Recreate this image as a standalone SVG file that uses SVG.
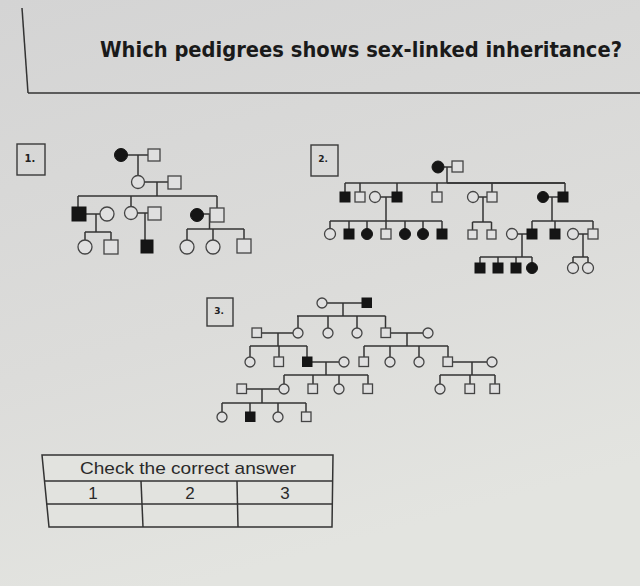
<svg xmlns="http://www.w3.org/2000/svg" width="640" height="586" viewBox="0 0 640 586">
<defs>
<linearGradient id="bg" x1="0" y1="0" x2="0.3" y2="1">
<stop offset="0" stop-color="#d4d4d4"/>
<stop offset="0.6" stop-color="#dcdcda"/>
<stop offset="1" stop-color="#e3e4e0"/>
</linearGradient>
<style>
.ln{stroke:#333;stroke-width:1.5;fill:none}
.o{fill:#e0e0e0;stroke:#444;stroke-width:1.3}
.f{fill:#151515;stroke:#151515;stroke-width:1}
.bx{fill:none;stroke:#3a3a3a;stroke-width:1.4}
.lbl{font-family:"DejaVu Sans","Liberation Sans",sans-serif;font-weight:bold;fill:#222}
.tb{font-family:"Liberation Sans",Arial,sans-serif;fill:#2a2a2a}
</style>
</defs>
<rect width="640" height="586" fill="url(#bg)"/>

<g id="header">
<line class="ln" x1="22" y1="8" x2="28" y2="93" stroke-width="2"/>
<line class="ln" x1="28" y1="93" x2="640" y2="93" stroke-width="2"/>
<text x="361" y="57" text-anchor="middle" font-family="'DejaVu Sans Condensed','DejaVu Sans',sans-serif" font-weight="bold" font-size="21" fill="#1a1a1a" textLength="522" lengthAdjust="spacingAndGlyphs">Which pedigrees shows sex-linked inheritance?</text>
</g>

<!-- Pedigree 1 -->
<g id="pedigree1">
<g id="p1-label"><rect class="bx" x="17" y="144" width="28" height="31"/><text class="lbl" x="30" y="162" font-size="10" text-anchor="middle">1.</text></g>
<g id="p1-connectors">
<line class="ln" x1="127" y1="155" x2="148" y2="155"/>
<line class="ln" x1="138" y1="155" x2="138" y2="175.5"/>
<line class="ln" x1="145" y1="182" x2="168" y2="182"/>
<line class="ln" x1="157" y1="182" x2="157" y2="196"/>
<line class="ln" x1="78" y1="196" x2="217" y2="196"/>
<line class="ln" x1="78" y1="196" x2="78" y2="207"/>
<line class="ln" x1="131" y1="196" x2="131" y2="206.5"/>
<line class="ln" x1="217" y1="196" x2="217" y2="208"/>
<line class="ln" x1="86" y1="214" x2="100" y2="214"/>
<line class="ln" x1="96" y1="214" x2="96" y2="232"/>
<line class="ln" x1="85" y1="232" x2="111" y2="232"/>
<line class="ln" x1="85" y1="232" x2="85" y2="240"/>
<line class="ln" x1="111" y1="232" x2="111" y2="240"/>
<line class="ln" x1="137.5" y1="213" x2="148" y2="213"/>
<line class="ln" x1="145" y1="213" x2="145" y2="240"/>
<line class="ln" x1="203" y1="214" x2="210" y2="214"/>
<line class="ln" x1="209.5" y1="214" x2="209.5" y2="229"/>
<line class="ln" x1="187" y1="229" x2="244" y2="229"/>
<line class="ln" x1="187" y1="229" x2="187" y2="240"/>
<line class="ln" x1="213" y1="229" x2="213" y2="240"/>
<line class="ln" x1="244" y1="229" x2="244" y2="239"/>
</g>
<circle id="p1-i1" class="f" cx="121" cy="155" r="6.5"/>
<rect id="p1-i2" class="o" x="148" y="149" width="12" height="12"/>
<circle id="p1-ii1" class="o" cx="138" cy="182" r="6.5"/>
<rect id="p1-ii2" class="o" x="168" y="176" width="13" height="13"/>
<rect id="p1-iii1" class="f" x="72" y="207" width="14" height="14"/>
<circle id="p1-iii2" class="o" cx="107" cy="214" r="7"/>
<circle id="p1-iii3" class="o" cx="131" cy="213" r="6.5"/>
<rect id="p1-iii4" class="o" x="148" y="207" width="13" height="13"/>
<circle id="p1-iii5" class="f" cx="197" cy="215" r="6.5"/>
<rect id="p1-iii6" class="o" x="210" y="208" width="14" height="14"/>
<circle id="p1-iv1" class="o" cx="85" cy="247" r="7"/>
<rect id="p1-iv2" class="o" x="104" y="240" width="14" height="14"/>
<rect id="p1-iv3" class="f" x="141" y="240" width="12" height="13"/>
<circle id="p1-iv4" class="o" cx="187" cy="247" r="7"/>
<circle id="p1-iv5" class="o" cx="213" cy="247" r="7"/>
<rect id="p1-iv6" class="o" x="237" y="239" width="14" height="14"/>
</g>

<!-- Pedigree 2 -->
<g id="pedigree2">
<g id="p2-label"><rect class="bx" x="311" y="145" width="27" height="31"/><text class="lbl" x="323" y="162" font-size="9" text-anchor="middle">2.</text></g>
<g id="p2-connectors">
<line class="ln" x1="444" y1="167" x2="452" y2="167"/>
<line class="ln" x1="447" y1="167" x2="447" y2="183"/>
<line class="ln" x1="345" y1="183" x2="565" y2="183" stroke-width="1.3"/>
<line class="ln" x1="447" y1="183" x2="565" y2="183" stroke-width="2"/>
<line class="ln" x1="345" y1="183" x2="345" y2="192"/>
<line class="ln" x1="360" y1="183" x2="360" y2="192"/>
<line class="ln" x1="397" y1="183" x2="397" y2="192"/>
<line class="ln" x1="437" y1="183" x2="437" y2="192"/>
<line class="ln" x1="492" y1="183" x2="492" y2="192"/>
<line class="ln" x1="565" y1="183" x2="565" y2="192"/>
<line class="ln" x1="380" y1="197" x2="392" y2="197"/>
<line class="ln" x1="386" y1="197" x2="386" y2="221"/>
<line class="ln" x1="330" y1="221" x2="442" y2="221"/>
<line class="ln" x1="330" y1="221" x2="330" y2="228.5"/>
<line class="ln" x1="349" y1="221" x2="349" y2="229"/>
<line class="ln" x1="367" y1="221" x2="367" y2="228.5"/>
<line class="ln" x1="386" y1="221" x2="386" y2="229"/>
<line class="ln" x1="405" y1="221" x2="405" y2="228.5"/>
<line class="ln" x1="423" y1="221" x2="423" y2="228.5"/>
<line class="ln" x1="442" y1="221" x2="442" y2="229"/>
<line class="ln" x1="478" y1="197" x2="487" y2="197"/>
<line class="ln" x1="483" y1="197" x2="483" y2="222"/>
<line class="ln" x1="472.5" y1="222" x2="491.5" y2="222"/>
<line class="ln" x1="472.5" y1="222" x2="472.5" y2="230"/>
<line class="ln" x1="491.5" y1="222" x2="491.5" y2="230"/>
<line class="ln" x1="548" y1="197" x2="558" y2="197"/>
<line class="ln" x1="552" y1="197" x2="552" y2="221"/>
<line class="ln" x1="532" y1="221" x2="593" y2="221"/>
<line class="ln" x1="532" y1="221" x2="532" y2="229"/>
<line class="ln" x1="555" y1="221" x2="555" y2="229"/>
<line class="ln" x1="593" y1="221" x2="593" y2="229"/>
<line class="ln" x1="517" y1="234" x2="527" y2="234"/>
<line class="ln" x1="522" y1="234" x2="522" y2="257"/>
<line class="ln" x1="480" y1="257" x2="532" y2="257"/>
<line class="ln" x1="480" y1="257" x2="480" y2="263"/>
<line class="ln" x1="498" y1="257" x2="498" y2="263"/>
<line class="ln" x1="516" y1="257" x2="516" y2="263"/>
<line class="ln" x1="532" y1="257" x2="532" y2="262.5"/>
<line class="ln" x1="578" y1="234" x2="588" y2="234"/>
<line class="ln" x1="583" y1="234" x2="583" y2="257"/>
<line class="ln" x1="573" y1="257" x2="588" y2="257"/>
<line class="ln" x1="573" y1="257" x2="573" y2="262.5"/>
<line class="ln" x1="588" y1="257" x2="588" y2="262.5"/>
</g>
<circle id="p2-i1" class="f" cx="438" cy="167" r="6"/>
<rect id="p2-i2" class="o" x="452" y="161" width="11" height="11"/>
<rect id="p2-ii1" class="f" x="340" y="192" width="10" height="10"/>
<rect id="p2-ii2" class="o" x="355" y="192" width="10" height="10"/>
<circle id="p2-ii3" class="o" cx="375" cy="197" r="5.5"/>
<rect id="p2-ii4" class="f" x="392" y="192" width="10" height="10"/>
<rect id="p2-ii5" class="o" x="432" y="192" width="10" height="10"/>
<circle id="p2-ii6" class="o" cx="473" cy="197" r="5.5"/>
<rect id="p2-ii7" class="o" x="487" y="192" width="10" height="10"/>
<circle id="p2-ii8" class="f" cx="543" cy="197" r="5.5"/>
<rect id="p2-ii9" class="f" x="558" y="192" width="10" height="10"/>
<circle id="p2-iii1" class="o" cx="330" cy="234" r="5.5"/>
<rect id="p2-iii2" class="f" x="344" y="229" width="10" height="10"/>
<circle id="p2-iii3" class="f" cx="367" cy="234" r="5.5"/>
<rect id="p2-iii4" class="o" x="381" y="229" width="10" height="10"/>
<circle id="p2-iii5" class="f" cx="405" cy="234" r="5.5"/>
<circle id="p2-iii6" class="f" cx="423" cy="234" r="5.5"/>
<rect id="p2-iii7" class="f" x="437" y="229" width="10" height="10"/>
<rect id="p2-iii8" class="o" x="468" y="230" width="9" height="9"/>
<rect id="p2-iii9" class="o" x="487" y="230" width="9" height="9"/>
<circle id="p2-iii10" class="o" cx="512" cy="234" r="5.5"/>
<rect id="p2-iii11" class="f" x="527" y="229" width="10" height="10"/>
<rect id="p2-iii12" class="f" x="550" y="229" width="10" height="10"/>
<circle id="p2-iii13" class="o" cx="573" cy="234" r="5.5"/>
<rect id="p2-iii14" class="o" x="588" y="229" width="10" height="10"/>
<rect id="p2-iv1" class="f" x="475" y="263" width="10" height="10"/>
<rect id="p2-iv2" class="f" x="493" y="263" width="10" height="10"/>
<rect id="p2-iv3" class="f" x="511" y="263" width="10" height="10"/>
<circle id="p2-iv4" class="f" cx="532" cy="268" r="5.5"/>
<circle id="p2-iv5" class="o" cx="573" cy="268" r="5.5"/>
<circle id="p2-iv6" class="o" cx="588" cy="268" r="5.5"/>
</g>

<!-- Pedigree 3 -->
<g id="pedigree3">
<g id="p3-label"><rect class="bx" x="207" y="298" width="26" height="28"/><text class="lbl" x="219" y="314" font-size="9" text-anchor="middle">3.</text></g>
<g id="p3-connectors">
<line class="ln" x1="327" y1="303" x2="362" y2="303"/>
<line class="ln" x1="343" y1="303" x2="343" y2="316"/>
<line class="ln" x1="297" y1="316" x2="385.5" y2="316"/>
<line class="ln" x1="298" y1="316" x2="298" y2="328"/>
<line class="ln" x1="328" y1="316" x2="328" y2="328"/>
<line class="ln" x1="357" y1="316" x2="357" y2="328"/>
<line class="ln" x1="385.5" y1="316" x2="385.5" y2="328"/>
<line class="ln" x1="262" y1="333" x2="293" y2="333"/>
<line class="ln" x1="278" y1="333" x2="278" y2="346"/>
<line class="ln" x1="250" y1="346" x2="307" y2="346"/>
<line class="ln" x1="250" y1="346" x2="250" y2="357"/>
<line class="ln" x1="279" y1="346" x2="279" y2="357"/>
<line class="ln" x1="307" y1="346" x2="307" y2="357"/>
<line class="ln" x1="390.5" y1="333" x2="423" y2="333"/>
<line class="ln" x1="407" y1="333" x2="407" y2="346"/>
<line class="ln" x1="364" y1="346" x2="448" y2="346"/>
<line class="ln" x1="364" y1="346" x2="364" y2="357"/>
<line class="ln" x1="390" y1="346" x2="390" y2="357"/>
<line class="ln" x1="419" y1="346" x2="419" y2="357"/>
<line class="ln" x1="448" y1="346" x2="448" y2="357"/>
<line class="ln" x1="312" y1="362" x2="339" y2="362"/>
<line class="ln" x1="326" y1="362" x2="326" y2="375"/>
<line class="ln" x1="284" y1="375" x2="368" y2="375"/>
<line class="ln" x1="284" y1="375" x2="284" y2="384"/>
<line class="ln" x1="313" y1="375" x2="313" y2="384"/>
<line class="ln" x1="339" y1="375" x2="339" y2="384"/>
<line class="ln" x1="368" y1="375" x2="368" y2="384"/>
<line class="ln" x1="453" y1="362" x2="487" y2="362"/>
<line class="ln" x1="472" y1="362" x2="472" y2="375"/>
<line class="ln" x1="440" y1="375" x2="495" y2="375"/>
<line class="ln" x1="440" y1="375" x2="440" y2="384"/>
<line class="ln" x1="470" y1="375" x2="470" y2="384"/>
<line class="ln" x1="495" y1="375" x2="495" y2="384"/>
<line class="ln" x1="247" y1="389" x2="279" y2="389"/>
<line class="ln" x1="262" y1="389" x2="262" y2="403"/>
<line class="ln" x1="222" y1="403" x2="306" y2="403"/>
<line class="ln" x1="222" y1="403" x2="222" y2="412"/>
<line class="ln" x1="250" y1="403" x2="250" y2="412"/>
<line class="ln" x1="278" y1="403" x2="278" y2="412"/>
<line class="ln" x1="306" y1="403" x2="306" y2="412"/>
</g>
<circle id="p3-i1" class="o" cx="322" cy="303" r="5"/>
<rect id="p3-i2" class="f" x="362" y="298" width="9.5" height="9.5"/>
<rect id="p3-ii1" class="o" x="252" y="328" width="9.5" height="9.5"/>
<circle id="p3-ii2" class="o" cx="298" cy="333" r="5"/>
<circle id="p3-ii3" class="o" cx="328" cy="333" r="5"/>
<circle id="p3-ii4" class="o" cx="357" cy="333" r="5"/>
<rect id="p3-ii5" class="o" x="381" y="328" width="9.5" height="9.5"/>
<circle id="p3-ii6" class="o" cx="428" cy="333" r="5"/>
<circle id="p3-iii1" class="o" cx="250" cy="362" r="5"/>
<rect id="p3-iii2" class="o" x="274" y="357" width="9.5" height="9.5"/>
<rect id="p3-iii3" class="f" x="302.5" y="357" width="9.5" height="9.5"/>
<circle id="p3-iii4" class="o" cx="344" cy="362" r="5"/>
<rect id="p3-iii5" class="o" x="359" y="357" width="9.5" height="9.5"/>
<circle id="p3-iii6" class="o" cx="390" cy="362" r="5"/>
<circle id="p3-iii7" class="o" cx="419" cy="362" r="5"/>
<rect id="p3-iii8" class="o" x="443" y="357" width="9.5" height="9.5"/>
<circle id="p3-iii9" class="o" cx="492" cy="362" r="5"/>
<rect id="p3-iv1" class="o" x="237" y="384" width="9.5" height="9.5"/>
<circle id="p3-iv2" class="o" cx="284" cy="389" r="5"/>
<rect id="p3-iv3" class="o" x="308" y="384" width="9.5" height="9.5"/>
<circle id="p3-iv4" class="o" cx="339" cy="389" r="5"/>
<rect id="p3-iv5" class="o" x="363" y="384" width="9.5" height="9.5"/>
<circle id="p3-iv6" class="o" cx="440" cy="389" r="5"/>
<rect id="p3-iv7" class="o" x="465" y="384" width="9.5" height="9.5"/>
<rect id="p3-iv8" class="o" x="490" y="384" width="9.5" height="9.5"/>
<circle id="p3-v1" class="o" cx="222" cy="417" r="5"/>
<rect id="p3-v2" class="f" x="245.5" y="412" width="9.5" height="9.5"/>
<circle id="p3-v3" class="o" cx="278" cy="417" r="5"/>
<rect id="p3-v4" class="o" x="301.5" y="412" width="9.5" height="9.5"/>
</g>

<!-- Answer table -->
<g id="answer-table">
<polygon points="42,455 333,455 332,527 49,527" fill="#e2e3df" stroke="#333" stroke-width="1.5"/>
<line class="ln" x1="44" y1="481" x2="333" y2="481"/>
<line class="ln" x1="46" y1="504" x2="332" y2="504"/>
<line class="ln" x1="141" y1="481" x2="143" y2="527"/>
<line class="ln" x1="237" y1="481" x2="238" y2="527"/>
<text class="tb" x="188" y="474" font-size="17" text-anchor="middle" textLength="216" lengthAdjust="spacingAndGlyphs">Check the correct answer</text>
<text class="tb" x="93" y="499" font-size="17" text-anchor="middle">1</text>
<text class="tb" x="190" y="499" font-size="17" text-anchor="middle">2</text>
<text class="tb" x="285" y="499" font-size="17" text-anchor="middle">3</text>
</g>
</svg>
